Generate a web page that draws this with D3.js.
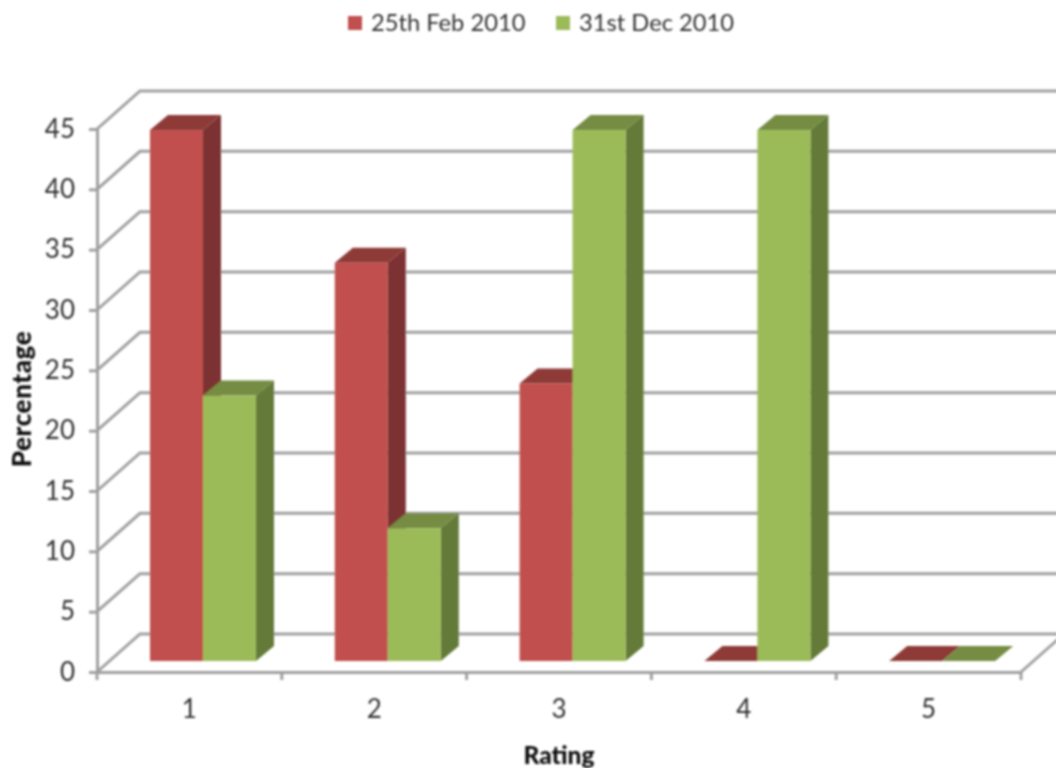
<!DOCTYPE html>
<html><head><meta charset="utf-8">
<script src="https://cdn.jsdelivr.net/npm/d3@7/dist/d3.min.js"></script>
<style>html,body{margin:0;padding:0;background:#fff;overflow:hidden}svg{display:block}text{font-family:Lato,"Open Sans",sans-serif;fill:#333}</style>
</head><body><svg id="c" width="1056" height="768"></svg>
<script>
const ratings = ["1","2","3","4","5"];
const seriesNames = ["25th Feb 2010","31st Dec 2010"];
const feb2010 = [44,33,23,0,0];
const dec2010 = [22,11,44,44,0];
const yTicks = [0,5,10,15,20,25,30,35,40,45];
const seriesValues = [feb2010, dec2010];
const front = ["#c0504d","#9bbb59"], top_ = ["#8e3a38","#748c42"], side = ["#7c3230","#647a38"];

const svg = d3.select("#c");
const defs = svg.append("defs");
defs.append("filter").attr("id","soft").attr("x","-5%").attr("y","-5%").attr("width","110%").attr("height","110%")
  .append("feGaussianBlur").attr("stdDeviation",0.8);
const g = svg.append("g").attr("filter","url(#soft)");
const gridCol = "#a0a0a0";

const y = d3.scaleLinear().domain([0,45]).range([672,129]);
const x = d3.scaleBand().domain(ratings).range([97,1021]);
const x1 = d3.scaleBand().domain(seriesNames).range([53,159]);
const wallDx = 43, wallDy = -38;          // depth of the chart floor
const barShiftY = -11, barDx = 18, barDy = -15; // placement and depth of the bars

// walls
yTicks.forEach(v=>{
  g.append("path").attr("fill","none").attr("stroke",gridCol).attr("stroke-width",3)
   .attr("d",`M${x.range()[0]},${y(v)}L${x.range()[0]+wallDx},${y(v)+wallDy}L1060,${y(v)+wallDy}`);
});
g.append("path").attr("fill","none").attr("stroke",gridCol).attr("stroke-width",3)
 .attr("d",`M1021,672L${1021+wallDx},${672+wallDy}`);

// axes
const yAxis = d3.axisLeft(y).tickValues(yTicks).tickSize(8).tickPadding(14);
const ya = g.append("g").attr("transform","translate(97,0)").call(yAxis);
const xAxis = d3.axisBottom(x).tickSize(0).tickPadding(28);
const xa = g.append("g").attr("transform","translate(0,672)").call(xAxis);
[ya,xa].forEach(a=>{a.selectAll("path.domain").attr("stroke",gridCol).attr("stroke-width",3);
  a.selectAll(".tick line").attr("stroke",gridCol).attr("stroke-width",3);
  a.selectAll("text").style("font-size","26px").style("fill","#333");});
const sep = ratings.map(r=>x(r)).concat(x.range()[1]);
g.selectAll("line.sep").data(sep).join("line").attr("x1",d=>d).attr("x2",d=>d).attr("y1",672).attr("y2",680)
 .attr("stroke",gridCol).attr("stroke-width",3);

// bars
ratings.forEach((r,i)=>{
  seriesNames.forEach((s,k)=>{
    const v = seriesValues[k][i];
    const x0 = x(r)+x1(s), w = x1.bandwidth();
    const base = y(0)+barShiftY, t = y(v)+barShiftY;
    const b = g.append("g");
    b.append("path").attr("fill",side[k]).attr("d",`M${x0+w},${t}L${x0+w+barDx},${t+barDy}L${x0+w+barDx},${base+barDy}L${x0+w},${base}Z`);
    b.append("path").attr("fill",top_[k]).attr("d",`M${x0},${t}L${x0+barDx},${t+barDy}L${x0+w+barDx},${t+barDy}L${x0+w},${t}Z`);
    if(v>0) b.append("rect").attr("x",x0).attr("y",t).attr("width",w).attr("height",base-t).attr("fill",front[k]);
  });
});

// titles
g.append("text").attr("x",559).attr("y",764).attr("text-anchor","middle").style("font-size","24.5px").style("font-weight",900).style("fill","#111").text("Rating");
g.append("text").attr("transform","translate(31,399) rotate(-90)").attr("text-anchor","middle").style("font-size","26px").style("letter-spacing","0.6px").style("font-weight",900).style("fill","#111").text("Percentage");

// legend
const legendX = [348,556];
seriesNames.forEach((s,k)=>{
  g.append("rect").attr("x",legendX[k]).attr("y",16).attr("width",14).attr("height",14).attr("fill",front[k]);
  g.append("text").attr("x",legendX[k]+23).attr("y",31).style("font-size","23.7px").text(s);
});
</script></body></html>
